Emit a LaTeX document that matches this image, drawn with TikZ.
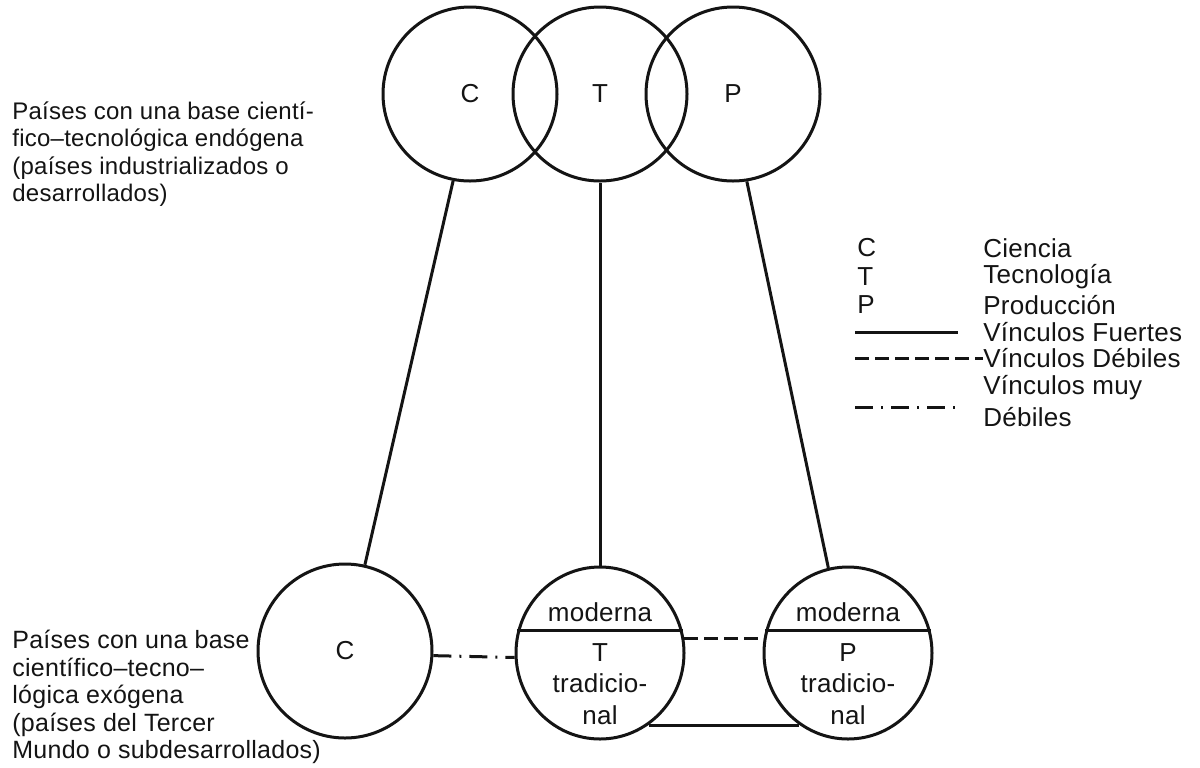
\documentclass[tikz,border=0pt]{standalone}
\usepackage{fontspec}
\setmainfont{Liberation Sans}[LetterSpace=1]
\usepackage{tikz}
\usetikzlibrary{shapes.geometric, positioning}
\definecolor{ink}{RGB}{20, 20, 20}

\begin{document}
\begin{tikzpicture}[
    x=0.5pt, y=-0.5pt,
    every node/.style={font=\fontsize{13}{13.75}\selectfont, text=ink},
    ring/.style={circle, draw=ink, line width=1.5pt, minimum size=87pt, inner sep=0pt},
    oval/.style={ellipse, draw=ink, line width=1.5pt, minimum width=84pt, minimum height=86pt, inner sep=0pt},
    strong/.style={ink, line width=1.5pt},
    weak/.style={strong, dash pattern=on 7pt off 3pt},
    veryweak/.style={strong, dash pattern=on 9pt off 4pt on 1pt off 4pt},
    caption/.style={align=left, anchor=west, inner sep=0pt}
]
\fill[white] (0,0) rectangle (1200,767);
\useasboundingbox (0,0) rectangle (1200,767);

% Endogenous base: overlapping circles
\node[ring] (ct) at (470,94) {C};
\node[ring] (tt) at (600,94) {T};
\node[ring] (pt) at (733,94) {P};

% Exogenous base
\node[oval, minimum width=87pt, minimum height=87pt] (cb) at (345,651) {C};
\node[oval] (tb) at (600,653) {};
\node[oval] (pb) at (848,653) {};

% Modern / traditional split
\draw[strong] (tb.165) -- (tb.15);
\draw[strong] (pb.165) -- (pb.15);
\foreach \x/\l/\s in {600/T/t, 848/P/p} {
    \node (\s mod) at (\x,612) {moderna};
    \node (\s let) at (\x,653) {\l};
    \node (\s tra) at (\x,683) {tradicio-};
    \node (\s nal) at (\x,715) {nal};
}

% Links
\draw[strong] (ct.-101) -- (cb.77);
\draw[strong] (tt.south) -- (tb.north);
\draw[strong] (pt.-81) -- (pb.103);
\draw[veryweak] (cb.-3) -- (tb.183);
\draw[weak] (tb.10) -- (pb.170);
\draw[strong] (tb.-56) -- (pb.-124);

% Captions
\node[caption, font=\fontsize{12}{13.75}\selectfont] (endo) at (12,154) {Países con una base cientí-\\fico–tecnológica endógena\\(países industrializados o\\desarrollados)};
\node[caption, font=\fontsize{12.5}{13.75}\selectfont] (exo) at (12,697) {Países con una base\\científico–tecno–\\lógica exógena\\(países del Tercer\\Mundo o subdesarrollados)};

% Legend
\foreach \y/\k/\w in {248/C/Ciencia, 277/T/Tecnología, 305/P/Producción} {
    \node[anchor=west, inner sep=0pt] (key\k) at (857,\y) {\k};
    \node[anchor=west, inner sep=0pt] (name\k) at (983,\y) {\w};
}
\node[caption] (fuertes) at (983,332) {Vínculos Fuertes};
\node[caption] (debiles) at (983,358) {Vínculos Débiles};
\node[caption, font=\fontsize{13}{16}\selectfont] (muy) at (983,401) {Vínculos muy\\Débiles};

\coordinate (f1) at (855,332);
\coordinate (f2) at (958,332);
\coordinate (d1) at (855,358);
\coordinate (v1) at (855,407);
\coordinate (v2) at (958,407);
\draw[strong] (f1) -- (f2);
\draw[weak] (d1) -- (debiles.west);
\draw[veryweak] (v1) -- (v2);

\end{tikzpicture}
\end{document}
